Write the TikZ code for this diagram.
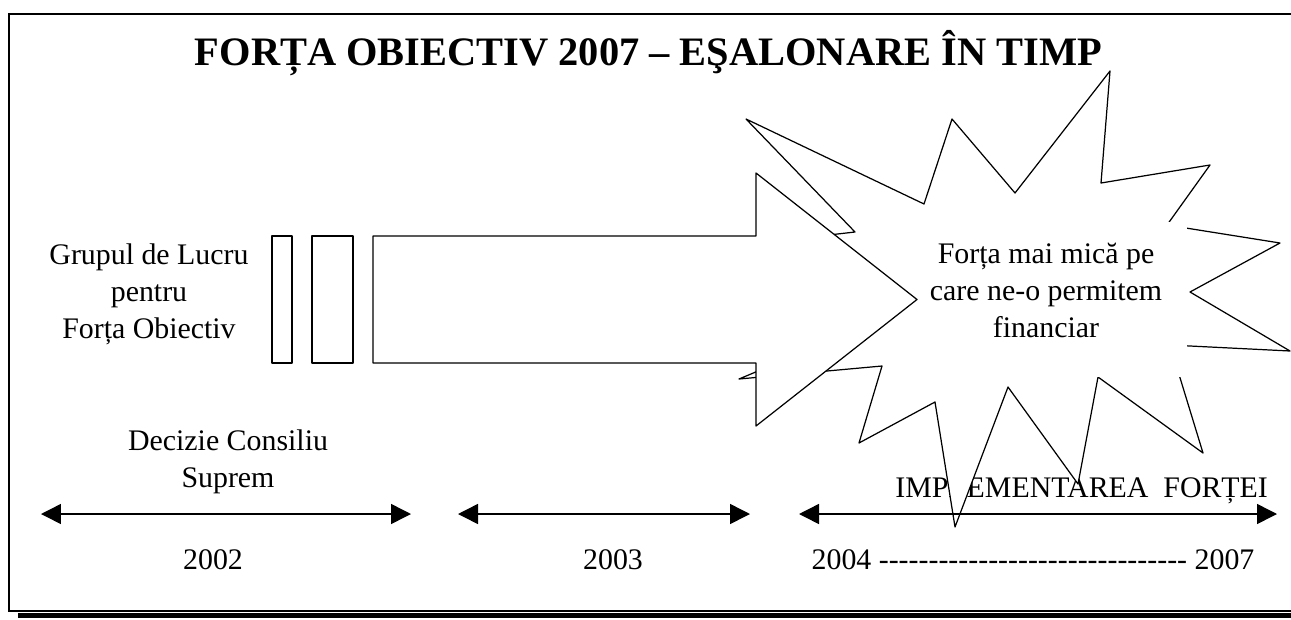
\documentclass[tikz,border=0pt]{standalone}
\usepackage{fontspec}
\setmainfont{Liberation Serif}
\usetikzlibrary{arrows.meta}
\tikzset{
  txt/.style={font=\fontsize{17pt}{21pt}\selectfont, inner sep=0pt, align=center},
  outline/.style={line width=0.7pt, line join=round},
  timeline/.style={line width=0.85pt, {Triangle[length=4mm,width=4mm]}-{Triangle[length=4mm,width=4mm]}}
}
\newcommand{\dashrun}{\foreach \k in {1,...,31}{-\kern0pt}}

\begin{document}
\begin{tikzpicture}[x=0.02cm,y=-0.02cm]
        \useasboundingbox (0,0) rectangle (1291,619);
        % frame and shadow
        \draw[line width=0.75pt] (1300,14) -- (9,14) -- (9,611) -- (1300,611);
        \fill (18,612.5) rectangle (1300,617.5);
        \node[font=\fontsize{23pt}{28pt}\selectfont\bfseries, anchor=base, inner sep=0pt] (title) at (648.5,65) {FORȚA OBIECTIV 2007 – EŞALONARE ÎN TIMP};
        \node[txt, anchor=base] (grupul) at (149,338) {Grupul de Lucru\\pentru\\Forța Obiectiv};
        \node[txt, anchor=base] (decizie) at (228,487) {Decizie Consiliu\\Suprem};
        \node[txt, anchor=base west] (impl) at (895,497) {IMPLEMENTAREA~ FORȚEI};
        % burst
        \filldraw[outline, fill=white] (746,119) -- (924,204) -- (952,119) -- (1015,193) -- (1110,71) -- (1101,183)
          -- (1210,165) -- (1167,225) -- (1280,243) -- (1190,292) -- (1290,351) -- (1170,345) -- (1203,453)
          -- (1098,377) -- (1078,484) -- (1008,387) -- (955,527) -- (935,402) -- (859,443) -- (882,366)
          -- (739,379) -- (820,345) -- (715,248) -- (855,232) -- cycle;
        \fill[white] (890,222) rectangle (1187,377);
        \node[txt, anchor=base] (forta) at (1046,337) {Forța mai mică pe\\care ne-o permitem\\financiar};
        % striped arrow
        \draw[outline] (272,236) rectangle (292,363);
        \draw[outline] (312,236) rectangle (353,363);
        \filldraw[outline, fill=white] (373,236) -- (756,236) -- (756,173) -- (917,299.5) -- (756,426) -- (756,363) -- (373,363) -- cycle;
        % time axis
        \coordinate (a1) at (41,514);
        \coordinate (b1) at (411,514);
        \coordinate (a2) at (458,514);
        \coordinate (b2) at (750,514);
        \coordinate (a3) at (799,514);
        \coordinate (b3) at (1277,514);
        \draw[timeline] (a1) -- (b1);
        \draw[timeline] (a2) -- (b2);
        \draw[timeline] (a3) -- (b3);
        \node[txt, anchor=base] (y2002) at (213,569) {2002};
        \node[txt, anchor=base] (y2003) at (613,569) {2003};
        \node[txt, anchor=base] (y2007) at (1033,569) {2004 \dashrun{} 2007};
\end{tikzpicture}
\end{document}
